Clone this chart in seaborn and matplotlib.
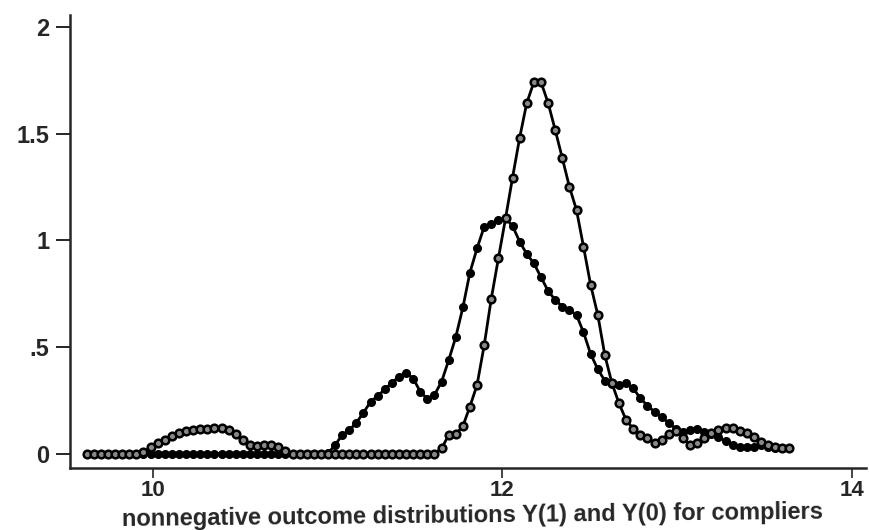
import matplotlib
matplotlib.use("Agg")
import matplotlib.pyplot as plt
import seaborn as sns
import pandas as pd

# Kernel density evaluation grid (log outcome)
grid = [
    9.623, 9.664, 9.704, 9.745, 9.785, 9.826, 9.867, 9.907, 9.948, 9.989,
    10.029, 10.070, 10.110, 10.151, 10.192, 10.232, 10.273, 10.314, 10.354, 10.395,
    10.435, 10.476, 10.517, 10.557, 10.598, 10.639, 10.679, 10.720, 10.760, 10.801,
    10.842, 10.882, 10.923, 10.963, 11.004, 11.045, 11.085, 11.126, 11.167, 11.207,
    11.248, 11.288, 11.329, 11.370, 11.410, 11.451, 11.492, 11.532, 11.573, 11.613,
    11.654, 11.695, 11.735, 11.776, 11.816, 11.857, 11.898, 11.938, 11.979, 12.020,
    12.060, 12.101, 12.141, 12.182, 12.223, 12.263, 12.304, 12.345, 12.385, 12.426,
    12.466, 12.507, 12.548, 12.588, 12.629, 12.669, 12.710, 12.751, 12.791, 12.832,
    12.873, 12.913, 12.954, 12.994, 13.035, 13.076, 13.116, 13.157, 13.198, 13.238,
    13.279, 13.320, 13.360, 13.401, 13.441, 13.482, 13.523, 13.563, 13.604, 13.644,
]

# Density of Y(1) for compliers (hollow markers)
density_y1 = [
    0, 0, 0, 0, 0, 0, 0, 0, 0.005, 0.03,
    0.05, 0.065, 0.08, 0.095, 0.105, 0.11, 0.113, 0.115, 0.122, 0.12,
    0.11, 0.09, 0.065, 0.04, 0.035, 0.038, 0.04, 0.03, 0.012, 0,
    0, 0, 0, 0, 0, 0, 0, 0, 0, 0,
    0, 0, 0, 0, 0, 0, 0, 0, 0, 0,
    0.024, 0.087, 0.09, 0.129, 0.22, 0.322, 0.509, 0.725, 0.916, 1.104,
    1.295, 1.483, 1.644, 1.743, 1.743, 1.647, 1.519, 1.386, 1.253, 1.143,
    0.971, 0.791, 0.65, 0.462, 0.329, 0.236, 0.157, 0.116, 0.087, 0.071,
    0.05, 0.065, 0.092, 0.104, 0.071, 0.04, 0.051, 0.071, 0.095, 0.11,
    0.121, 0.118, 0.107, 0.095, 0.076, 0.055, 0.04, 0.031, 0.026, 0.027,
]

# Density of Y(0) for compliers (filled markers)
density_y0 = [
    0, 0, 0, 0, 0, 0, 0, 0, 0, 0,
    0, 0, 0, 0, 0, 0, 0, 0, 0, 0,
    0, 0, 0, 0, 0, 0, 0, 0, 0, 0,
    0, 0, 0, 0, 0.001, 0.04, 0.087, 0.11, 0.145, 0.192,
    0.243, 0.27, 0.301, 0.332, 0.361, 0.379, 0.352, 0.29, 0.256, 0.275,
    0.337, 0.439, 0.546, 0.686, 0.849, 0.963, 1.065, 1.076, 1.096, 1.104,
    1.068, 0.994, 0.937, 0.893, 0.827, 0.764, 0.721, 0.69, 0.674, 0.65,
    0.569, 0.467, 0.395, 0.342, 0.324, 0.322, 0.33, 0.306, 0.259, 0.225,
    0.195, 0.171, 0.143, 0.117, 0.103, 0.11, 0.114, 0.102, 0.09, 0.076,
    0.059, 0.04, 0.032, 0.029, 0.032, 0.04, 0.032, 0.027, 0.024, 0.027,
]

x_ticks = [10, 12, 14]
x_tick_labels = ["10", "12", "14"]
y_ticks = [0, 0.5, 1, 1.5, 2]
y_tick_labels = ["0", ".5", "1", "1.5", "2"]
x_label = "nonnegative outcome distributions Y(1) and Y(0) for compliers"

df = pd.DataFrame({"x": grid, "y1": density_y1, "y0": density_y0})

sns.set_style("ticks")
plt.rcParams["font.family"] = ["Liberation Sans", "DejaVu Sans"]

fig = plt.figure(figsize=(8.7, 5.3), dpi=100)
ax = fig.add_axes([0.0805, 0.117, 0.915, 0.855])

sns.lineplot(data=df, x="x", y="y0", ax=ax, color="black", linewidth=2.0,
             marker="o", markersize=5.5, markerfacecolor="black",
             markeredgecolor="black", markeredgewidth=1.0)
sns.lineplot(data=df, x="x", y="y1", ax=ax, color="black", linewidth=2.0,
             marker="o", markersize=5.5, markerfacecolor="#888888",
             markeredgecolor="black", markeredgewidth=1.8)

ax.set_xlim(9.528, 14.083)
ax.set_ylim(-0.068, 2.059)
ax.set_xticks(x_ticks)
ax.set_xticklabels(x_tick_labels)
ax.set_yticks(y_ticks)
ax.set_yticklabels(y_tick_labels)
ax.tick_params(axis="y", length=10, width=1.4, labelsize=17, pad=5)
ax.tick_params(axis="x", length=7, width=1.2, labelsize=16, pad=2)
for lab in ax.get_xticklabels() + ax.get_yticklabels():
    lab.set_fontweight("bold")
ax.set_ylabel("")
ax.set_xlabel(x_label, fontsize=17, fontweight="bold", rotation=0.6,
              va="center", ha="center")
ax.xaxis.set_label_coords(0.505, -0.106)

sns.despine(ax=ax)
ax.spines["left"].set_linewidth(1.8)
ax.spines["bottom"].set_linewidth(1.8)

fig.savefig("out.png", dpi=100, facecolor="white")
